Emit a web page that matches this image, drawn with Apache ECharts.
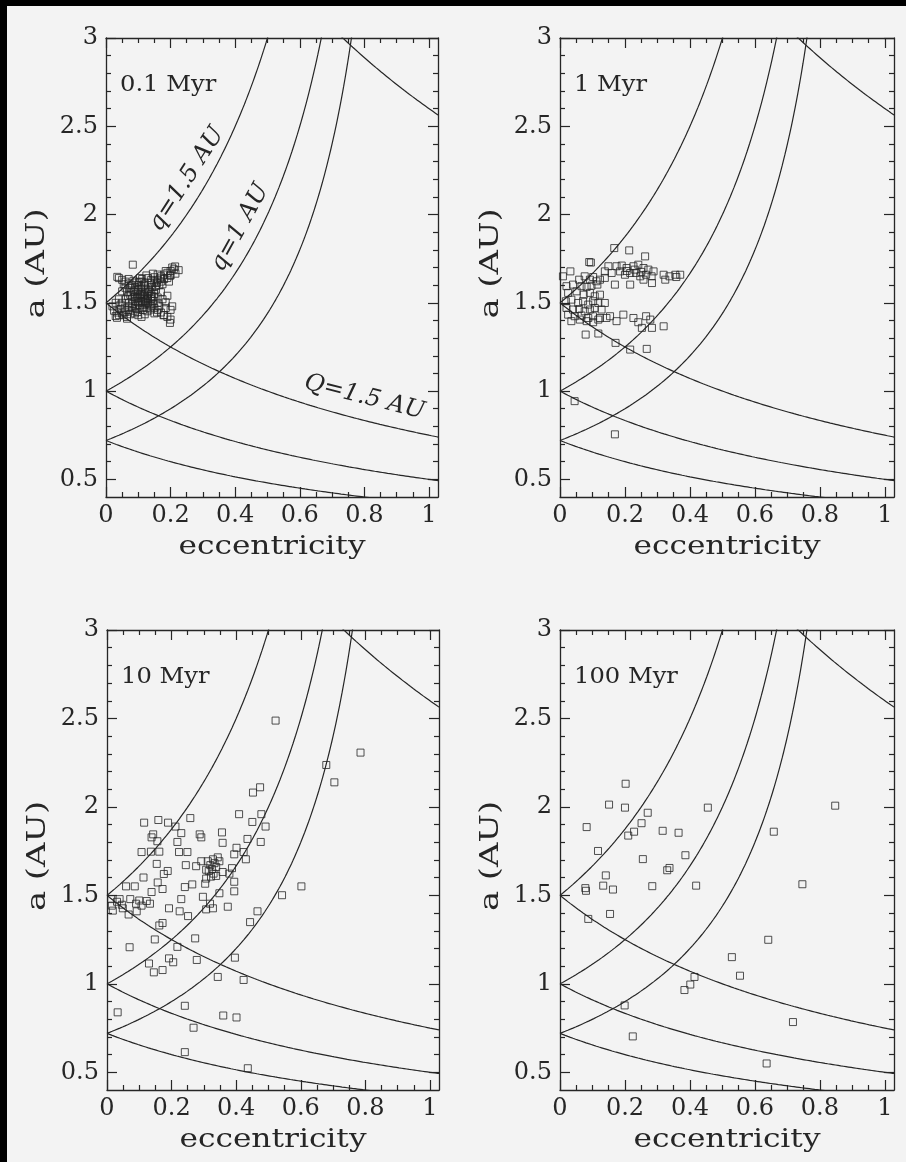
<!DOCTYPE html>
<html>
<head>
<meta charset="utf-8">
<script src="https://cdn.jsdelivr.net/npm/echarts@6/dist/echarts.min.js"></script>
<style>
  html, body { margin: 0; padding: 0; background: #f3f3f3; }
  #chart { width: 906px; height: 1162px; }
</style>
</head>
<body>
<div id="chart"></div>
<script>
// ---- data ----------------------------------------------------------------
const panelTitles = ['0.1 Myr', '1 Myr', '10 Myr', '100 Myr'];
const xTitle = 'eccentricity';
const yTitle = 'a (AU)';

const eccTicks = [0, 0.2, 0.4, 0.6, 0.8, 1];
const eccMinorTicks = [0.05, 0.1, 0.15, 0.25, 0.3, 0.35, 0.45, 0.5, 0.55, 0.65, 0.7, 0.75, 0.85, 0.9, 0.95];
const aTicks = [0.5, 1, 1.5, 2, 2.5, 3];
const aMinorTicks = [0.6, 0.7, 0.8, 0.9, 1.1, 1.2, 1.3, 1.4, 1.6, 1.7, 1.8, 1.9, 2.1, 2.2, 2.3, 2.4, 2.6, 2.7, 2.8, 2.9];

// perihelion q = a(1-e) and aphelion Q = a(1+e) reference curves (AU)
const periValues = [1.5, 1, 0.72];
const aphValues = [1.5, 1, 0.72, 5.2];

// [eccentricity, semimajor axis (AU)]
const orbits01 = [
  [0.083,1.716],[0.035,1.647],[0.214,1.706],[0.198,1.654],[0.034,1.415],[0.065,1.41],[0.178,1.43],[0.198,1.386],[0.185,1.503],[0.205,1.48],
  [0.040,1.640],[0.050,1.630],[0.060,1.620],[0.070,1.610],[0.080,1.600],[0.090,1.590],[0.100,1.575],[0.075,1.585],[0.055,1.605],[0.095,1.615],
  [0.130,1.580],[0.140,1.600],[0.150,1.620],[0.160,1.630],[0.170,1.650],[0.180,1.660],[0.190,1.670],[0.200,1.680],[0.210,1.690],[0.150,1.645],
  [0.170,1.620],[0.190,1.640],[0.160,1.660],[0.180,1.635],[0.200,1.655],[0.140,1.630],[0.120,1.610],[0.130,1.640],[0.165,1.600],[0.215,1.665],
  [0.225,1.685],[0.185,1.680],[0.175,1.605],[0.110,1.620],[0.145,1.665],[0.125,1.655],[0.105,1.640],[0.195,1.620],[0.155,1.595],[0.205,1.700],
  [0.100,1.500],[0.090,1.480],[0.080,1.470],[0.070,1.460],[0.060,1.450],[0.050,1.440],[0.040,1.430],[0.030,1.425],[0.035,1.445],[0.055,1.430],
  [0.065,1.420],[0.075,1.435],[0.090,1.440],[0.100,1.430],[0.110,1.420],[0.120,1.435],[0.085,1.455],[0.115,1.460],[0.045,1.465],[0.025,1.455],
  [0.130,1.500],[0.140,1.480],[0.150,1.470],[0.160,1.460],[0.170,1.445],[0.180,1.430],[0.190,1.420],[0.200,1.405],[0.165,1.480],[0.150,1.440],
  [0.100,1.530],[0.110,1.550],[0.120,1.520],[0.130,1.540],[0.110,1.510],[0.120,1.560],[0.090,1.540],[0.100,1.560],[0.130,1.520],[0.140,1.550],
  [0.080,1.520],[0.090,1.510],[0.110,1.580],[0.120,1.490],[0.100,1.600],[0.140,1.520],[0.150,1.550],[0.160,1.530],[0.070,1.500],[0.060,1.520],
  [0.050,1.500],[0.045,1.490],[0.085,1.565],[0.095,1.525],[0.105,1.545],[0.115,1.535],[0.125,1.575],[0.135,1.565],[0.075,1.545],[0.065,1.560],
  [0.105,1.485],[0.115,1.505],[0.125,1.470],[0.135,1.490],[0.145,1.510],[0.175,1.520],[0.190,1.540],[0.040,1.520],[0.030,1.500],[0.020,1.480],
  [0.095,1.465],[0.155,1.575],[0.170,1.560],[0.060,1.585],[0.050,1.565],[0.085,1.625],[0.070,1.635],[0.160,1.500],[0.200,1.460],[0.185,1.470],
  [0.092,1.572],[0.108,1.592],[0.118,1.548],[0.128,1.528],[0.098,1.508],[0.112,1.472],[0.122,1.512],[0.132,1.558],[0.142,1.588],[0.148,1.532],
  [0.082,1.492],[0.072,1.478],[0.088,1.532],[0.078,1.562],[0.102,1.618],[0.112,1.635],[0.138,1.612],[0.158,1.612],[0.168,1.638],[0.148,1.492],
  [0.138,1.462],[0.158,1.445],[0.128,1.452],[0.068,1.538],[0.058,1.472],[0.098,1.448],[0.118,1.598],[0.142,1.538],[0.106,1.528],[0.124,1.502]
];

const orbits1 = [
  [0.167,1.810],[0.213,1.797],[0.262,1.763],[0.090,1.731],[0.149,1.707],[0.174,1.707],[0.190,1.711],[0.205,1.697],[0.226,1.707],[0.241,1.716],
  [0.257,1.697],[0.272,1.688],[0.288,1.678],[0.138,1.678],[0.159,1.669],[0.185,1.678],[0.200,1.659],[0.216,1.669],[0.234,1.669],[0.247,1.650],
  [0.265,1.659],[0.282,1.650],[0.319,1.659],[0.337,1.650],[0.355,1.659],[0.370,1.659],[0.138,1.641],[0.169,1.603],[0.216,1.603],[0.257,1.631],
  [0.283,1.612],[0.324,1.631],[0.358,1.646],[0.205,1.680],[0.230,1.688],[0.250,1.675],[0.095,1.728],
  [0.009,1.650],[0.032,1.678],[0.059,1.631],[0.076,1.650],[0.092,1.631],[0.102,1.646],[0.112,1.622],[0.123,1.631],
  [0.020,1.594],[0.040,1.603],[0.066,1.594],[0.082,1.590],[0.097,1.597],[0.115,1.603],
  [0.025,1.556],[0.051,1.565],[0.073,1.546],[0.092,1.556],[0.107,1.537],[0.123,1.546],
  [0.018,1.509],[0.035,1.518],[0.056,1.499],[0.071,1.509],[0.087,1.490],[0.102,1.509],[0.118,1.499],[0.138,1.499],
  [0.020,1.471],[0.040,1.462],[0.059,1.465],[0.076,1.452],[0.092,1.462],[0.107,1.471],[0.128,1.462],
  [0.025,1.433],[0.045,1.424],[0.066,1.428],[0.087,1.414],[0.102,1.424],[0.123,1.414],[0.143,1.414],
  [0.035,1.396],[0.061,1.405],[0.082,1.396],[0.102,1.390],[0.118,1.405],
  [0.154,1.424],[0.174,1.396],[0.195,1.433],[0.226,1.414],[0.241,1.390],[0.265,1.424],[0.278,1.405],[0.252,1.358],[0.283,1.358],[0.319,1.367],
  [0.079,1.320],[0.118,1.326],[0.171,1.273],[0.216,1.235],[0.267,1.239],[0.045,0.943],[0.169,0.755]
];

const orbits10 = [
  [0.522,2.488],[0.785,2.307],[0.679,2.237],[0.704,2.139],[0.452,2.081],[0.474,2.111],[0.409,1.959],[0.450,1.915],[0.478,1.959],[0.491,1.889],
  [0.476,1.802],[0.435,1.819],[0.430,1.704],[0.423,1.745],[0.602,1.551],[0.542,1.501],[0.466,1.410],[0.443,1.349],[0.396,1.148],[0.423,1.022],
  [0.343,1.039],[0.360,0.821],[0.401,0.810],[0.241,0.876],[0.268,0.752],[0.241,0.614],[0.436,0.523],[0.033,0.839],[0.070,1.207],[0.130,1.115],
  [0.145,1.065],[0.172,1.078],[0.192,1.144],[0.205,1.122],[0.218,1.209],[0.278,1.135],[0.273,1.257],[0.148,1.251],[0.172,1.344],[0.251,1.383],
  [0.225,1.410],[0.059,1.551],[0.015,1.442],[0.018,1.414],[0.031,1.464],[0.039,1.479],[0.046,1.447],[0.067,1.392],[0.072,1.479],[0.090,1.453],
  [0.100,1.471],[0.107,1.442],[0.123,1.468],[0.133,1.453],[0.092,1.410],[0.049,1.427],[0.013,1.479],[0.115,1.911],[0.159,1.926],[0.189,1.911],
  [0.212,1.889],[0.258,1.937],[0.143,1.845],[0.138,1.828],[0.156,1.806],[0.230,1.852],[0.218,1.802],[0.287,1.845],[0.292,1.828],[0.356,1.856],
  [0.358,1.797],[0.107,1.745],[0.136,1.747],[0.162,1.747],[0.223,1.745],[0.249,1.745],[0.401,1.769],[0.154,1.678],[0.188,1.638],[0.244,1.671],
  [0.276,1.665],[0.292,1.693],[0.307,1.645],[0.312,1.693],[0.320,1.671],[0.328,1.704],[0.333,1.682],[0.338,1.660],[0.325,1.649],[0.315,1.638],
  [0.348,1.693],[0.343,1.715],[0.330,1.623],[0.322,1.606],[0.338,1.610],[0.394,1.732],[0.387,1.654],[0.379,1.623],[0.394,1.577],[0.358,1.632],
  [0.307,1.595],[0.304,1.566],[0.264,1.562],[0.241,1.547],[0.172,1.536],[0.157,1.573],[0.176,1.621],[0.113,1.601],[0.086,1.551],[0.138,1.519],
  [0.230,1.479],[0.297,1.492],[0.348,1.512],[0.394,1.523],[0.374,1.436],[0.328,1.427],[0.307,1.421],[0.319,1.453],[0.192,1.427],[0.162,1.330]
];

const orbits100 = [
  [0.202,2.131],[0.151,2.013],[0.200,1.996],[0.455,1.996],[0.847,2.007],[0.082,1.886],[0.270,1.967],[0.251,1.908],[0.210,1.838],[0.228,1.860],
  [0.316,1.865],[0.365,1.854],[0.658,1.860],[0.117,1.751],[0.255,1.705],[0.386,1.727],[0.330,1.642],[0.337,1.655],[0.141,1.613],[0.078,1.541],
  [0.080,1.526],[0.133,1.555],[0.163,1.533],[0.284,1.552],[0.419,1.555],[0.746,1.563],[0.087,1.367],[0.154,1.395],[0.641,1.249],[0.529,1.151],
  [0.554,1.046],[0.414,1.039],[0.401,0.996],[0.383,0.965],[0.199,0.878],[0.224,0.703],[0.717,0.784],[0.636,0.550]
];

const panelOrbits = [orbits01, orbits1, orbits10, orbits100];

// ---- layout & style ------------------------------------------------------
const gridBoxes = [
  { left: 106, top: 38,  width: 332, height: 459 },
  { left: 560, top: 38,  width: 334, height: 459 },
  { left: 107, top: 630, width: 332, height: 460 },
  { left: 560, top: 630, width: 334, height: 460 }
];
const E_MIN = 0, E_MAX = 1.028, A_MIN = 0.4, A_MAX = 3;
const serif = 'DejaVu Serif';
const ink = '#262626';

// curve sampling along eccentricity
function periCurve(q) {
  const pts = [];
  const eTop = Math.min(E_MAX, 1 - q / (A_MAX + 0.05));
  for (let e = 0; e < eTop; e += 0.004) pts.push([e, q / (1 - e)]);
  pts.push([eTop, q / (1 - eTop)]);
  return pts;
}
function aphCurve(Q) {
  const pts = [];
  for (let e = 0; e < E_MAX; e += 0.004) pts.push([e, Q / (1 + e)]);
  pts.push([E_MAX, Q / (1 + E_MAX)]);
  return pts;
}

const grids = [], xAxes = [], yAxes = [], series = [];
const tickLine = { color: ink, width: 1.2 };
const frameLine = { show: true, onZero: false, lineStyle: { color: ink, width: 1.3 } };
const noLine = { show: false, onZero: false };

gridBoxes.forEach((box, g) => {
  grids.push(Object.assign({ show: false }, box));
  const xb = { gridIndex: g, type: 'value', min: E_MIN, max: E_MAX, splitLine: { show: false } };
  const yb = { gridIndex: g, type: 'value', min: A_MIN, max: A_MAX, splitLine: { show: false } };
  // x: bottom major (labels), bottom minor, top major, top minor
  xAxes.push(Object.assign({}, xb, {
    position: 'bottom', axisLine: frameLine,
    axisTick: { show: true, inside: true, length: 10, customValues: eccTicks, lineStyle: tickLine },
    axisLabel: { show: true, customValues: eccTicks, margin: 7, fontFamily: serif, fontSize: 24, color: ink }
  }));
  xAxes.push(Object.assign({}, xb, {
    position: 'bottom', axisLine: noLine, axisLabel: { show: false },
    axisTick: { show: true, inside: true, length: 5, customValues: eccMinorTicks, lineStyle: tickLine }
  }));
  xAxes.push(Object.assign({}, xb, {
    position: 'top', axisLine: frameLine, axisLabel: { show: false },
    axisTick: { show: true, inside: true, length: 10, customValues: eccTicks, lineStyle: tickLine }
  }));
  xAxes.push(Object.assign({}, xb, {
    position: 'top', axisLine: noLine, axisLabel: { show: false },
    axisTick: { show: true, inside: true, length: 5, customValues: eccMinorTicks, lineStyle: tickLine }
  }));
  // y: left major (labels), left minor, right major, right minor
  yAxes.push(Object.assign({}, yb, {
    position: 'left', axisLine: frameLine,
    axisTick: { show: true, inside: true, length: 10, customValues: aTicks, lineStyle: tickLine },
    axisLabel: { show: true, customValues: aTicks, margin: 8, fontFamily: serif, fontSize: 24, color: ink }
  }));
  yAxes.push(Object.assign({}, yb, {
    position: 'left', axisLine: noLine, axisLabel: { show: false },
    axisTick: { show: true, inside: true, length: 5, customValues: aMinorTicks, lineStyle: tickLine }
  }));
  yAxes.push(Object.assign({}, yb, {
    position: 'right', axisLine: frameLine, axisLabel: { show: false },
    axisTick: { show: true, inside: true, length: 10, customValues: aTicks, lineStyle: tickLine }
  }));
  yAxes.push(Object.assign({}, yb, {
    position: 'right', axisLine: noLine, axisLabel: { show: false },
    axisTick: { show: true, inside: true, length: 5, customValues: aMinorTicks, lineStyle: tickLine }
  }));

  const xi = g * 4, yi = g * 4;
  periValues.forEach(q => series.push({
    type: 'line', xAxisIndex: xi, yAxisIndex: yi, data: periCurve(q), showSymbol: false, clip: true,
    lineStyle: { color: ink, width: 1.2 }, silent: true, animation: false
  }));
  aphValues.forEach(Q => series.push({
    type: 'line', xAxisIndex: xi, yAxisIndex: yi, data: aphCurve(Q), showSymbol: false, clip: true,
    lineStyle: { color: ink, width: 1.2 }, silent: true, animation: false
  }));
  series.push({
    type: 'scatter', xAxisIndex: xi, yAxisIndex: yi, data: panelOrbits[g],
    symbol: 'rect', symbolSize: 7, silent: true, animation: false, z: 3,
    itemStyle: { color: 'rgba(0,0,0,0)', borderColor: ink, borderWidth: 1 }
  });
});

const chart = echarts.init(document.getElementById('chart'), null, { renderer: 'canvas' });
chart.setOption({
  backgroundColor: '#f3f3f3',
  animation: false,
  grid: grids, xAxis: xAxes, yAxis: yAxes, series: series
});

// ---- overlay texts: axis titles, panel ages and curve annotations ---------
const px = (g, e, a) => chart.convertToPixel({ xAxisIndex: g * 4, yAxisIndex: g * 4 }, [e, a]);
function slopeAngle(g, p0, p1) {
  const a = px(g, p0[0], p0[1]), b = px(g, p1[0], p1[1]);
  return Math.atan2(-(b[1] - a[1]), b[0] - a[0]);
}
const graphics = [];
gridBoxes.forEach((box, g) => {
  // axis titles, set in a wide serif
  graphics.push({
    type: 'text', x: box.left + box.width / 2, y: box.top + box.height + 50, scaleX: 1.2, silent: true,
    style: { text: xTitle, font: '26px "DejaVu Serif"', fill: ink, align: 'center', verticalAlign: 'middle' }
  });
  graphics.push({
    type: 'text', x: box.left - 69, y: box.top + box.height / 2 - 4, rotation: Math.PI / 2, scaleX: 1.3, silent: true,
    style: { text: yTitle, font: '26px "DejaVu Serif"', fill: ink, align: 'center', verticalAlign: 'middle' }
  });
  graphics.push({
    type: 'text', x: box.left + 14, y: box.top + 47, scaleX: 1.1, silent: true,
    style: { text: panelTitles[g], font: '22px "DejaVu Serif"', fill: ink, verticalAlign: 'middle' }
  });
});
// annotation text sits beside its curve and follows the curve's slope
const notes = [
  { text: 'q=1.5 AU', at: [0.25, 2.2],   along: [[0.24, 1.5 / 0.76], [0.30, 1.5 / 0.70]] },
  { text: 'q=1 AU',   at: [0.415, 1.925], along: [[0.42, 1 / 0.58], [0.48, 1 / 0.52]] },
  { text: 'Q=1.5 AU', at: [0.80, 0.965],  along: [[0.75, 1.5 / 1.75], [0.85, 1.5 / 1.85]] }
];
notes.forEach(n => {
  const p = px(0, n.at[0], n.at[1]);
  graphics.push({
    type: 'text', x: p[0], y: p[1], rotation: slopeAngle(0, n.along[0], n.along[1]), silent: true,
    style: { text: n.text, font: 'italic 24px "DejaVu Serif"', fill: ink, align: 'center', verticalAlign: 'middle' }
  });
});
// dark scanner edges along the top and left of the page
graphics.push({ type: 'rect', shape: { x: 0, y: 0, width: 906, height: 6 }, style: { fill: '#000' }, silent: true });
graphics.push({ type: 'rect', shape: { x: 0, y: 0, width: 7, height: 1162 }, style: { fill: '#000' }, silent: true });
chart.setOption({ graphic: graphics });
</script>
</body>
</html>
